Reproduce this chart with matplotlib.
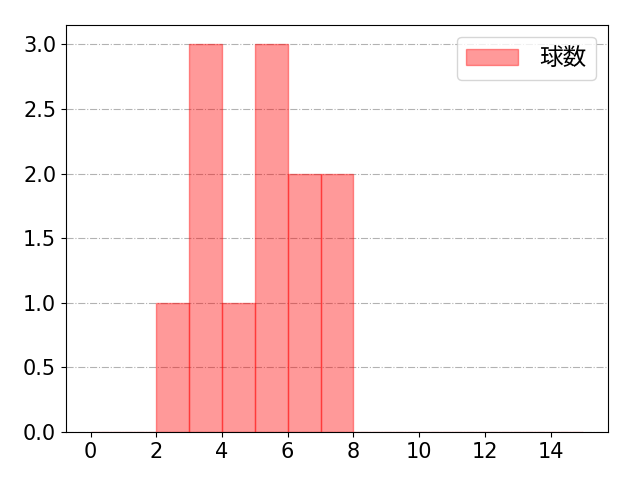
import matplotlib
matplotlib.use("Agg")
import matplotlib.pyplot as plt

plt.rcParams['font.family'] = ['DejaVu Sans', 'Noto Sans CJK JP']

# histogram bins (0..15) and counts per bin
bin_edges = list(range(0, 16))
bin_starts = [2, 3, 4, 5, 6, 7]
counts = [1, 3, 1, 3, 2, 2]

fig, ax = plt.subplots(figsize=(6.4, 4.8), dpi=100)
ax.hist([b + 0.5 for b in bin_starts], bins=bin_edges, weights=counts,
        color="red", alpha=0.4, edgecolor="red", label="球数")
ax.grid(axis="y", linestyle="-.", color="gray", alpha=0.6)
ax.set_axisbelow(True)
ax.set_xticks(range(0, 15, 2))
ax.tick_params(labelsize=15)
ax.legend(fontsize=17, loc="upper right", handlelength=2.2, handletextpad=0.9)
fig.subplots_adjust(left=0.103, right=0.95, top=0.948, bottom=0.1)
fig.savefig("out.png")
